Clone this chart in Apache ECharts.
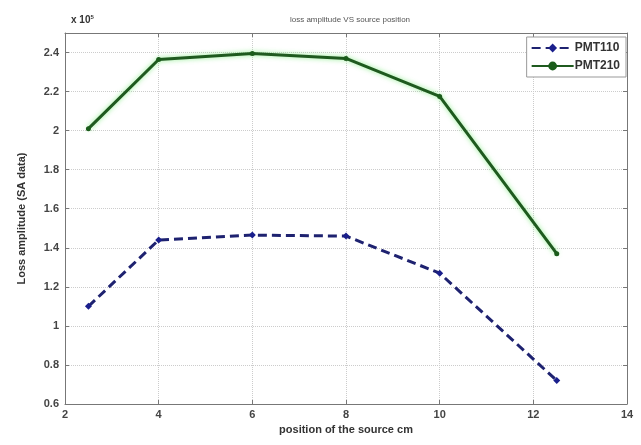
<!DOCTYPE html>
<html lang="en">
<head>
<meta charset="UTF-8">
<title>loss amplitude VS source position</title>
<script src="https://cdn.jsdelivr.net/npm/echarts@6/dist/echarts.min.js"></script>
<style>
    html, body { margin: 0; padding: 0; background: #fff; }
    #chart { width: 641px; height: 445px; }
</style>
</head>
<body>
<div id="chart"></div>
<script>
    // source position (cm)
    const positions = [2.5, 4, 6, 8, 10, 12.5];
    // loss amplitude, units of 1e5
    const pmt110 = [1.10, 1.44, 1.465, 1.46, 1.27, 0.72];
    const pmt210 = [2.01, 2.364, 2.395, 2.37, 2.175, 1.37];

    const toPairs = arr => arr.map((v, i) => [positions[i], v]);
    const font = 'Liberation Sans, Arial, sans-serif';

    const myChart = echarts.init(document.getElementById('chart'));

    const option = {
        backgroundColor: '#fff',
        animation: false,
        title: [{
            text: 'loss amplitude VS source position',
            left: 345, top: 11, textAlign: 'center',
            textStyle: { fontSize: 8, fontWeight: 'normal', color: '#555', fontFamily: font }
        }, {
            text: 'x 10{s|5}',
            left: 66, top: 9,
            textStyle: {
                fontSize: 10, fontWeight: 'bold', color: '#333', fontFamily: font,
                rich: { s: { fontSize: 6, verticalAlign: 'top', fontWeight: 'bold', color: '#333', padding: [0, 0, 7, 0] } }
            }
        }],
        legend: {
            right: 15, top: 37,
            orient: 'vertical',
            itemWidth: 42, itemHeight: 11, itemGap: 6,
            backgroundColor: '#fff',
            borderColor: '#999', borderWidth: 1,
            padding: [5, 6, 5, 4],
            textStyle: { fontSize: 12, fontWeight: 'bold', color: '#333', fontFamily: font, padding: [0, 0, 0, -4] },
            data: ['PMT110', 'PMT210']
        },
        grid: { left: 65, right: 14, top: 33, bottom: 41 },
        xAxis: [{
            type: 'value', min: 2, max: 14, interval: 2,
            name: 'position of the source cm',
            nameLocation: 'middle', nameGap: 20,
            nameTextStyle: { fontSize: 11, fontWeight: 'bold', color: '#333', fontFamily: font },
            axisLine: { lineStyle: { color: '#777' } },
            axisTick: { inside: true, length: 4, lineStyle: { color: '#777' } },
            axisLabel: { fontSize: 11, fontWeight: 'bold', color: '#444', fontFamily: font, margin: 5 },
            splitLine: { show: true, lineStyle: { color: '#ccc', type: 'dotted' } }
        }, {
            type: 'value', min: 2, max: 14, interval: 2, position: 'top',
            axisLine: { show: true, lineStyle: { color: '#777' } },
            axisTick: { inside: true, length: 4, lineStyle: { color: '#777' } },
            axisLabel: { show: false },
            splitLine: { show: false }
        }],
        yAxis: [{
            type: 'value', min: 0.6, max: 2.5, interval: 0.2,
            name: 'Loss amplitude (SA data)',
            nameLocation: 'middle', nameGap: 38,
            nameTextStyle: { fontSize: 11, fontWeight: 'bold', color: '#333', fontFamily: font },
            axisLine: { show: true, lineStyle: { color: '#777' } },
            axisTick: { show: true, inside: true, length: 4, lineStyle: { color: '#777' } },
            axisLabel: {
                fontSize: 11, fontWeight: 'bold', color: '#444', fontFamily: font, margin: 6,
                showMaxLabel: false,
                formatter: v => String(parseFloat(v.toFixed(1)))
            },
            splitLine: { show: true, lineStyle: { color: '#ccc', type: 'dotted' } }
        }, {
            type: 'value', min: 0.6, max: 2.5, interval: 0.2, position: 'right',
            axisLine: { show: true, lineStyle: { color: '#777' } },
            axisTick: { show: true, inside: true, length: 4, lineStyle: { color: '#777' } },
            axisLabel: { show: false },
            splitLine: { show: false }
        }],
        series: [{
            name: 'PMT110',
            type: 'line',
            data: toPairs(pmt110),
            symbol: 'diamond', symbolSize: 7,
            itemStyle: { color: '#1a1f8c' },
            lineStyle: { color: '#1e2270', width: 3, type: [9, 5] }
        }, {
            name: 'PMT210',
            type: 'line',
            data: toPairs(pmt210),
            symbol: 'circle', symbolSize: 5,
            itemStyle: { color: '#1b5c1b' },
            lineStyle: {
                color: '#1f5a1f', width: 3,
                shadowColor: 'rgba(90, 230, 90, 0.7)', shadowBlur: 5
            }
        }]
    };

    myChart.setOption(option);
</script>
</body>
</html>
